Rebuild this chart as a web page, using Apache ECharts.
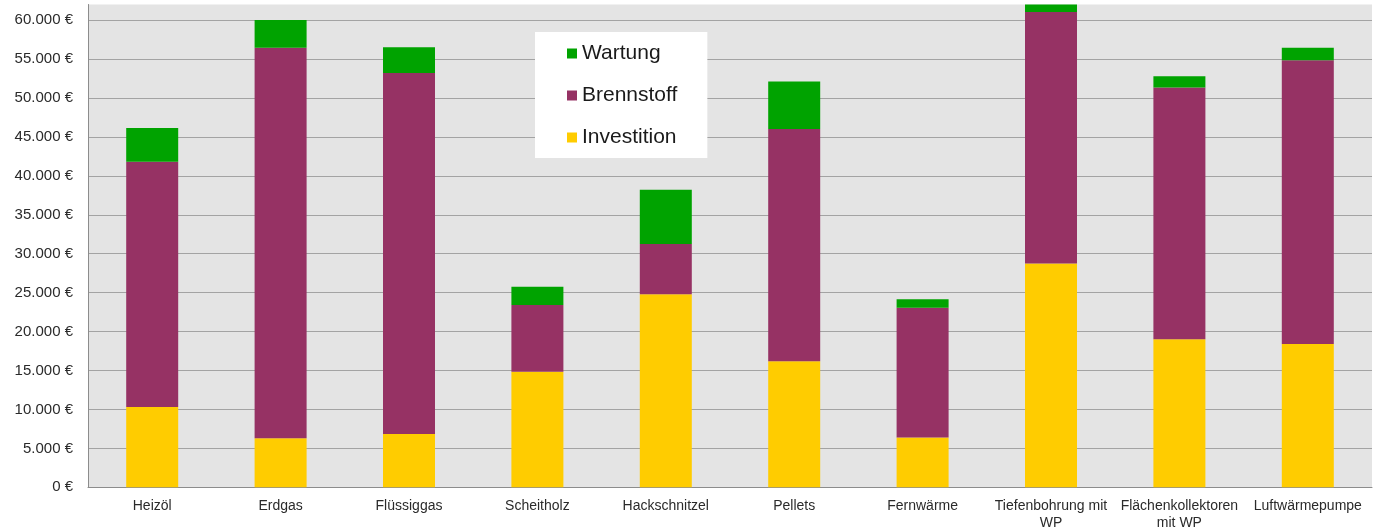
<!DOCTYPE html>
<html>
<head>
<meta charset="utf-8">
<script src="https://cdn.jsdelivr.net/npm/echarts@6/dist/echarts.min.js"></script>
<style>
html,body{margin:0;padding:0;background:#fff;}
#c{width:1373px;height:529px;}
</style>
</head>
<body>
<div id="c"></div>
<script>
const categories = ["Heizöl", "Erdgas", "Flüssiggas", "Scheitholz", "Hackschnitzel", "Pellets", "Fernwärme", "Tiefenbohrung mit\nWP", "Flächenkollektoren\nmit WP", "Luftwärmepumpe"];
const investition = [10300, 6300, 6850, 14850, 24800, 16200, 6400, 28750, 19000, 18400];
const brennstoff  = [31500, 50150, 46350, 8550, 6450, 29800, 16650, 32300, 32350, 36450];
const wartung     = [4350, 3550, 3300, 2350, 6950, 6100, 1100, 950, 1450, 1600];
const legendOrder = ["Wartung", "Brennstoff", "Investition"];

function fmt(v) {
  return String(v).replace(/\B(?=(\d{3})+(?!\d))/g, '.') + ' €';
}

const chart = echarts.init(document.getElementById('c'), null, {renderer: 'canvas'});
const font = "'Liberation Sans', Arial, Helvetica, sans-serif";
chart.setOption({
  animation: false,
  backgroundColor: '#ffffff',
  textStyle: {fontFamily: font},
  grid: {
    left: 88, right: 1, top: 4.5, bottom: 41.7,
    outerBoundsMode: 'none', containLabel: false,
    show: true, backgroundColor: '#e4e4e4', borderWidth: 0
  },
  legend: {
    data: legendOrder,
    orient: 'vertical',
    left: 535, top: 32,
    backgroundColor: '#ffffff',
    padding: [11, 30, 10, 32],
    itemGap: 21,
    itemWidth: 10, itemHeight: 10,
    icon: 'rect',
    textStyle: {fontSize: 21, color: '#1a1a1a', fontFamily: font}
  },
  xAxis: {
    type: 'category',
    data: categories,
    axisLine: {show: true, lineStyle: {color: '#8c8c8c', width: 1}},
    axisTick: {show: false},
    axisLabel: {fontSize: 14, color: '#2a2a2a', margin: 10, lineHeight: 17, interval: 0, fontFamily: font},
    splitLine: {show: false}
  },
  yAxis: {
    type: 'value',
    min: 0, max: 62000, interval: 5000,
    axisLine: {show: true, lineStyle: {color: '#8c8c8c', width: 1}},
    axisTick: {show: false},
    axisLabel: {fontSize: 15, color: '#2a2a2a', margin: 15, formatter: fmt, showMaxLabel: false, fontFamily: font},
    splitLine: {show: true, showMaxLine: false, lineStyle: {color: '#a3a3a3', width: 1}}
  },
  series: [
    {name: 'Investition', type: 'bar', stack: 'k', data: investition, barWidth: 52, itemStyle: {color: '#ffcc00'}},
    {name: 'Brennstoff', type: 'bar', stack: 'k', data: brennstoff, barWidth: 52, itemStyle: {color: '#963264'}},
    {name: 'Wartung', type: 'bar', stack: 'k', data: wartung, barWidth: 52, itemStyle: {color: '#00a300'}}
  ]
});
</script>
</body>
</html>
